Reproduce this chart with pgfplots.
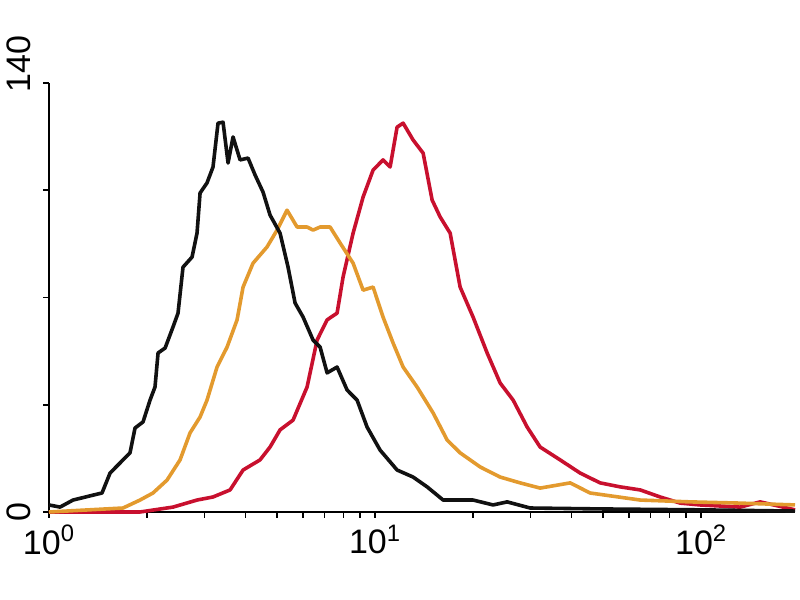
\documentclass[border=0pt]{standalone}
\usepackage{fontspec}
\setmainfont{Liberation Sans}
\usepackage{pgfplots}
\pgfplotsset{compat=1.18}
\definecolor{histblack}{HTML}{111111}
\definecolor{historange}{HTML}{E39A2E}
\definecolor{histred}{HTML}{C8102E}

\begin{document}
\begin{tikzpicture}
\path[use as bounding box] (0,0) rectangle (400pt,300pt);
\begin{axis}[
    at={(24.5pt,44pt)}, anchor=south west,
    scale only axis, width=373pt, height=214.5pt,
    xmode=log, xmin=1, xmax=194,
    ymin=0, ymax=140,
    axis lines*=left,
    axis line style={line width=1pt, black},
    tick align=outside,
    major tick length=3pt, minor tick length=3pt,
    tick style={line width=0.8pt, black},
    xtick={1,10,100},
    xticklabels={10\textsuperscript{0},10\textsuperscript{1},10\textsuperscript{2}},
    minor xtick={2,3,4,5,6,7,8,9,20,30,40,50,60,70,80,90},
    ytick={0,35,70,105,140},
    yticklabels={0,,,,},
    extra y ticks={140},
    extra y tick labels={140},
    extra y tick style={yticklabel style={xshift=9.5pt}},
    yticklabel style={rotate=90, anchor=south, yshift=2.5pt, font=\fontsize{17}{19}\selectfont},
    xticklabel style={font=\fontsize{17}{19}\selectfont},
    /pgf/number format/assume math mode=true,
    every axis plot/.append style={line width=1.8pt, line join=round},
    clip=false,
]
\addplot[histred] coordinates {
(1.0,0) (1.902,0) (2.401,1.6) (2.844,3.9) (3.184,4.9) (3.592,7.2) (3.937,13.7)
(4.438,17.0) (4.763,21.2) (5.112,26.8) (5.604,30.0) (6.187,40.8) (6.640,56.1)
(7.127,62.7) (7.647,64.9) (7.978,76.7) (8.562,91.0) (9.189,102.8) (9.860,111.6)
(10.58,114.9) (11.12,112.6) (11.68,125.6) (12.19,126.9) (13.08,121.4) (14.04,117.1)
(14.96,101.8) (15.83,96.3) (16.99,91.0) (18.23,73.4) (19.98,63.6) (22.06,51.9)
(24.18,42.1) (26.51,36.5) (29.27,27.7) (32.07,21.2) (36.94,17.0) (42.55,12.7)
(48.99,9.5) (56.43,8.2) (65.02,7.2) (74.86,4.9) (86.22,2.9) (99.29,2.3)
(131.7,1.6) (151.7,3.3) (194,0.7)
};
\addplot[historange] coordinates {
(1.0,0) (1.687,1.3) (1.902,3.9) (2.084,6.2) (2.301,10.4) (2.523,17.0) (2.707,25.8)
(2.906,31.0) (3.052,36.5) (3.276,47.3) (3.516,53.8) (3.774,62.7) (3.937,73.4)
(4.224,81.2) (4.663,86.5) (5.005,92.0) (5.370,98.5) (5.765,93.0) (6.187,93.0)
(6.455,92.0) (6.783,93.0) (7.278,93.0) (7.810,87.8) (8.562,81.2) (9.189,72.4)
(9.860,73.4) (10.58,63.6) (11.36,55.1) (12.19,47.3) (13.45,40.8) (15.07,32.3)
(16.63,23.5) (18.23,19.3) (21.00,14.7) (24.18,11.4) (27.85,9.5) (32.07,7.8)
(39.65,9.5) (45.65,6.2) (65.02,3.9) (92.55,3.3) (131.7,2.9) (194,2.3)
};
\addplot[histblack] coordinates {
(1.0,2.3) (1.081,1.6) (1.185,3.9) (1.365,5.5) (1.454,6.2) (1.539,12.7) (1.651,16.0)
(1.772,19.3) (1.836,27.4) (1.943,29.4) (2.041,36.5) (2.114,40.8) (2.160,51.9)
(2.270,53.5) (2.401,60.4) (2.487,64.9) (2.576,79.9) (2.746,83.2) (2.844,91.0)
(2.906,104.1) (3.052,107.4) (3.184,112.6) (3.299,126.9) (3.418,127.2) (3.541,113.9)
(3.668,122.4) (3.855,114.9) (4.078,115.5) (4.284,110.0) (4.533,104.4) (4.763,96.9)
(5.112,91.0) (5.409,79.9) (5.684,68.2) (6.015,63.6) (6.455,56.1) (6.783,53.8)
(7.127,45.4) (7.647,47.3) (8.207,39.8) (8.807,36.5) (9.452,27.7) (10.36,20.2)
(11.68,13.7) (13.08,11.4) (14.44,8.2) (16.17,3.9) (19.98,3.9) (23.01,2.3)
(25.41,3.3) (29.89,1.3) (48.99,1.0) (99.29,0.7) (194,0.3)
};
\end{axis}
\end{tikzpicture}
\end{document}
